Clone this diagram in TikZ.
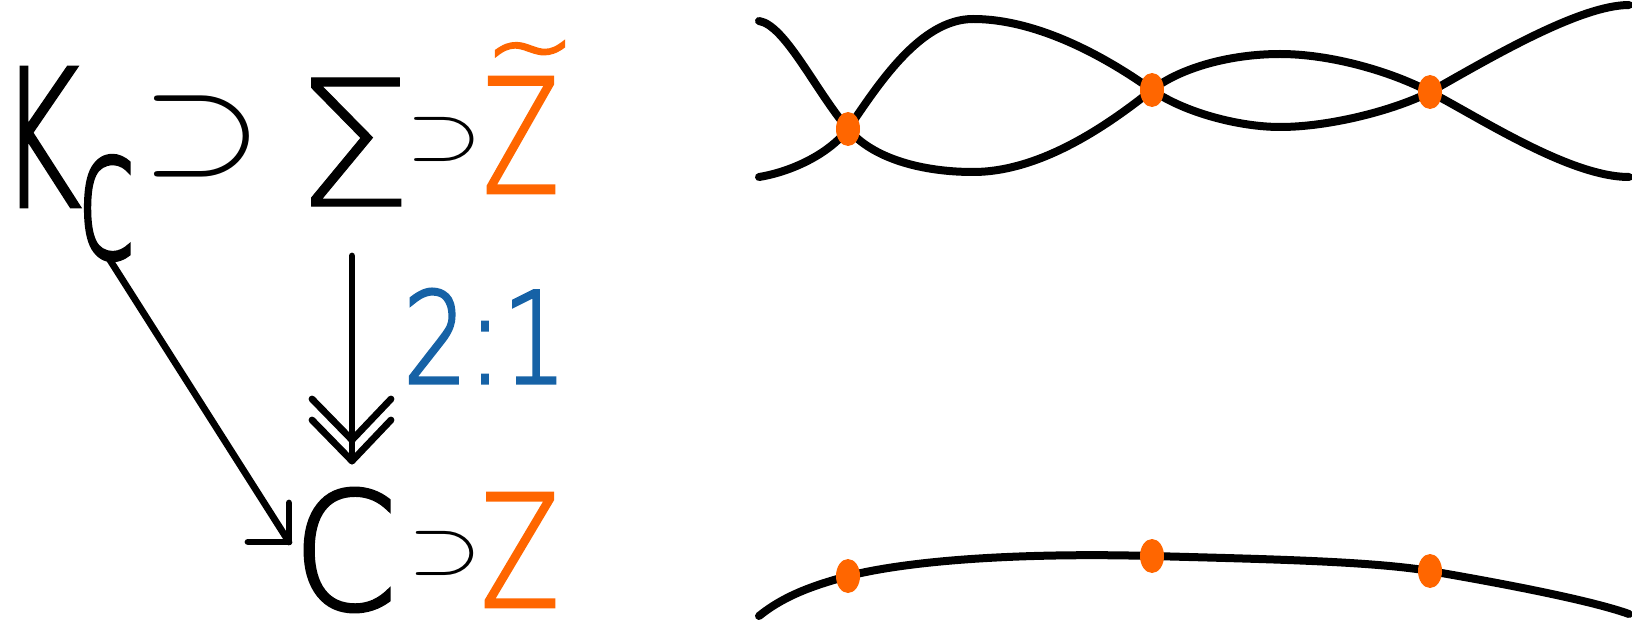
\documentclass[tikz,border=0pt]{standalone}
\usepackage{fontspec}
\usepackage{graphicx}
\newfontfamily\hand{DejaVu Sans ExtraLight}[FakeBold=2.4]
\newfontfamily\handthin{DejaVu Sans ExtraLight}[FakeBold=0.6]
\usetikzlibrary{shapes.geometric}
\definecolor{ored}{HTML}{FF6600}
\definecolor{hblue}{HTML}{1662A6}
\newcommand{\glyphbox}[3]{\resizebox*{#1pt}{#2pt}{#3}}
\newcommand{\supsym}{\kern-0.8pt$\supset$\kern-0.8pt}
\begin{document}
\begin{tikzpicture}[x=0.5pt,y=-0.5pt,
  glyph/.style={inner sep=0pt,outer sep=0pt},
  ink/.style={line width=3.4pt,line cap=round,line join=round},
  strand/.style={line width=4pt,line cap=round},
  dot/.style={ellipse,fill=ored,draw=none,inner sep=0pt,minimum width=12pt,minimum height=17pt}]
\useasboundingbox (0,0) rectangle (1632,636);
% top row
\node[glyph] (K) at (40,137) {\glyphbox{40}{69}{\hand K}};
\node[glyph] (c) at (107,208) {\glyphbox{29}{52}{\hand c}};
\node[glyph] (sup1) at (202,136) {\glyphbox{48}{40.5}{\supsym}};
\node[glyph] (Sig) at (353,142) {\glyphbox{60}{64}{\handthin Σ}};
\node[glyph] (sup2) at (444,139) {\glyphbox{30}{22}{\supsym}};
\node[glyph,text=ored] (Zt) at (521,135) {\glyphbox{38}{57.5}{\hand Z}};
\node[glyph,text=ored,anchor=base] (tl) at (530,55) {\scalebox{1.15}[1.1]{\raisebox{-12pt}[\dimexpr\height-12pt\relax][0pt]{\hand\fontsize{47pt}{47pt}\selectfont\textasciitilde}}};
% label
\node[glyph,text=hblue] (lab) at (485,336) {\glyphbox{82}{47}{\hand 2:1}};
% bottom row
\node[glyph] (C) at (345,550) {\glyphbox{52}{61.5}{\hand C}};
\node[glyph] (sup3) at (445,553) {\glyphbox{29}{22}{\supsym}};
\node[glyph,text=ored] (Z) at (520,550) {\glyphbox{39}{56.5}{\hand Z}};
% arrows
\coordinate (dS) at (108,257);
\coordinate (dE) at (289,542);
\draw[ink] (dS) -- (dE);
\draw[ink] (dE) ++(0,-39) -- (dE) -- ++(-41,0);
\coordinate (vS) at (352,256);
\coordinate (vE) at (352,461);
\coordinate (vE2) at (352,440);
\draw[ink] (vS) -- (vE);
\draw[ink] (vE) ++(-40,-41) -- (vE) -- ++(39,-41);
\draw[ink] (vE2) ++(-40,-41) -- (vE2) -- ++(39,-41);
% right: upper strands
\draw[strand] (759,21) .. controls (785,25) and (815,90) .. (848,129)
  .. controls (873,159) and (923,172) .. (973,172)
  .. controls (1040,172) and (1107,126) .. (1152,90)
  .. controls (1180,68) and (1230,54) .. (1280,54)
  .. controls (1330,54) and (1390,71) .. (1430,92)
  .. controls (1480,118) and (1570,177) .. (1629,177);
\draw[strand] (759,177) .. controls (790,172) and (828,155) .. (848,129)
  .. controls (878,85) and (920,19) .. (973,19)
  .. controls (1040,19) and (1110,60) .. (1152,90)
  .. controls (1185,113) and (1240,127) .. (1280,127)
  .. controls (1330,127) and (1395,110) .. (1430,92)
  .. controls (1490,58) and (1580,5) .. (1629,5);
\node[dot] (p1) at (848,129) {};
\node[dot] (p2) at (1152,90) {};
\node[dot] (p3) at (1430,92) {};
% right: lower curve
\draw[strand] (759,616) .. controls (785,595) and (815,585) .. (848,576)
  .. controls (920,558) and (1040,553) .. (1152,556)
  .. controls (1260,559) and (1370,561) .. (1430,571)
  .. controls (1500,583) and (1590,600) .. (1629,614);
\node[dot] (q1) at (848,576) {};
\node[dot] (q2) at (1152,556) {};
\node[dot] (q3) at (1430,571) {};
\end{tikzpicture}
\end{document}
